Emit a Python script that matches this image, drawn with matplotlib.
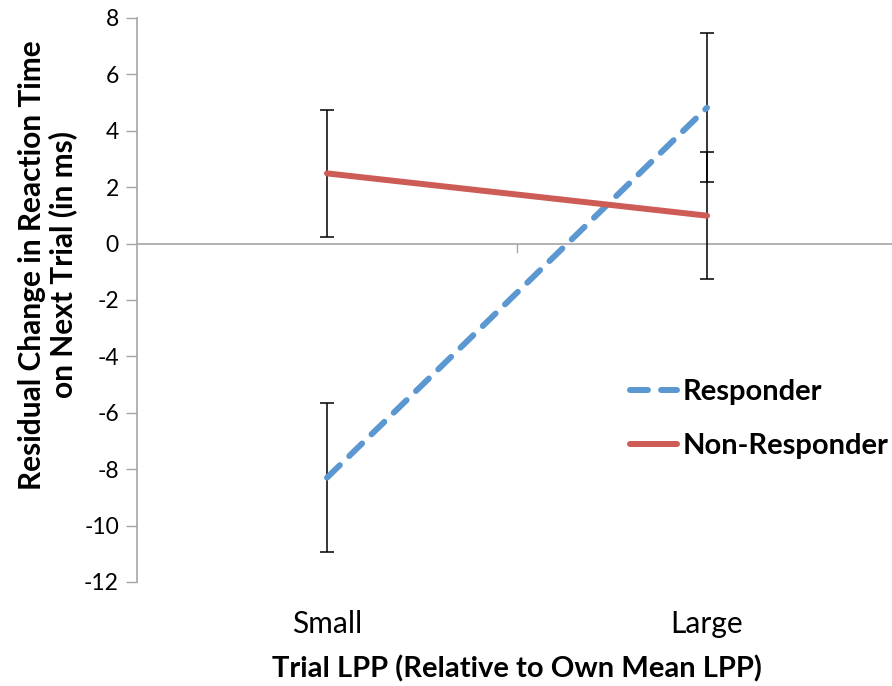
import matplotlib
import matplotlib.pyplot as plt

matplotlib.use('Agg')  # no display

plt.rcParams['font.family'] = ['Lato', 'DejaVu Sans']

# Data
categories = ['Small', 'Large']
responder = [-8.30, 4.82]
responder_err = [2.65, 2.65]
non_responder = [2.49, 0.99]
non_responder_err = [2.25, 2.26]
y_ticks = [-12, -10, -8, -6, -4, -2, 0, 2, 4, 6, 8]

blue = '#5b97d1'
red = '#cd5b56'
grey = '#a6a6a6'

fig = plt.figure(figsize=(8.92, 6.86), dpi=100)
ax = fig.add_axes([137/892, 1 - 582/686, 760/892, 564/686])

x = [0.5, 1.5]

# error bars first, lines on top
ax.errorbar(x, responder, yerr=responder_err, fmt='none', ecolor='black',
            elinewidth=1.1, capsize=5, capthick=1.1, zorder=2)
ax.errorbar(x, non_responder, yerr=non_responder_err, fmt='none', ecolor='black',
            elinewidth=1.1, capsize=5, capthick=1.1, zorder=2)

ax.plot(x, responder, color=blue, lw=4.3, linestyle=(0, (3.0, 2.2)),
        dash_capstyle='round', solid_capstyle='round', label='Responder', zorder=3)
ax.plot(x, non_responder, color=red, lw=4.3, solid_capstyle='round',
        label='Non-Responder', zorder=3)

# zero line with the category separator tick
ax.axhline(0, color=grey, lw=1.2, zorder=1)
ax.plot([1, 1], [0, -0.3], color=grey, lw=1.0, zorder=1)

ax.set_xlim(0, 2)
ax.set_ylim(-12, 8)
ax.set_yticks(y_ticks)
ax.set_yticklabels([str(v) for v in y_ticks], fontsize=16.5)
ax.set_xticks(x)
ax.set_xticklabels(categories, fontsize=21.5)
ax.tick_params(axis='x', length=0, pad=20)
ax.tick_params(axis='y', length=8, color=grey, width=1.0, pad=5)

for side in ['top', 'right', 'bottom']:
    ax.spines[side].set_visible(False)
ax.spines['left'].set_color(grey)
ax.spines['left'].set_linewidth(1.2)

fig.text(0.053, 1 - 265/686, 'Residual Change in Reaction Time\non Next Trial (in ms)',
         rotation=90, ha='center', va='center', multialignment='center',
         fontsize=21.5, fontweight='bold', linespacing=1.1)
fig.text(517/892, 1 - 669/686, 'Trial LPP (Relative to Own Mean LPP)',
         ha='center', va='center', fontsize=21, fontweight='bold')

leg = fig.legend(loc='center left', bbox_to_anchor=(630/892, 1 - 419/686),
                 frameon=False, handlelength=1.6, handletextpad=0.2,
                 labelspacing=0.95, borderpad=0, borderaxespad=0,
                 prop={'size': 21, 'weight': 'bold'})

fig.savefig('out.png', dpi=100)
